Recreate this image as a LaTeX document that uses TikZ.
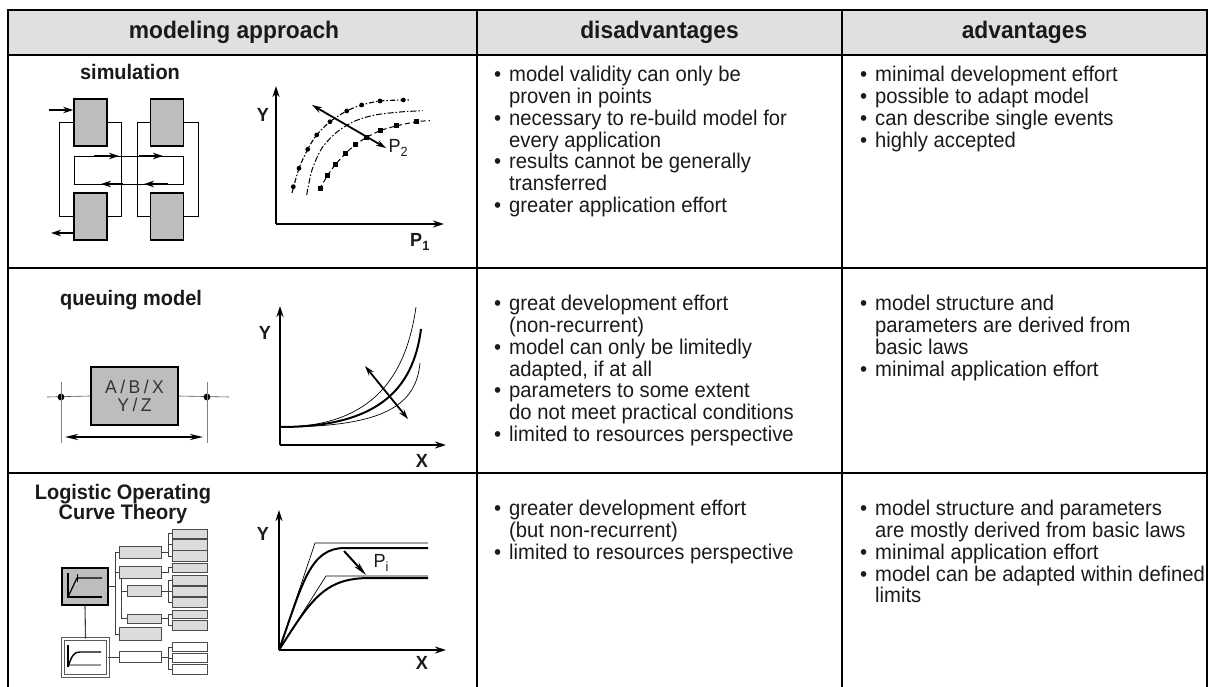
\documentclass[tikz,border=0pt]{standalone}
\usepackage{fontspec}
\setmainfont{Liberation Sans}[FakeStretch=0.95]
\usetikzlibrary{arrows.meta}
\definecolor{hdr}{HTML}{E0E0E0}
\definecolor{boxg}{HTML}{BDBDBD}
\definecolor{lboxg}{HTML}{DCDCDC}
\definecolor{ink}{HTML}{1A1A1A}
\newcommand\bu{\makebox[15pt][l]{\textbullet}}
\newcommand\ind{\hspace*{15pt}}
\begin{document}
\begin{tikzpicture}[x=1pt,y=-1pt,
  tbl/.style={line width=2.6pt, line join=miter},
  hd/.style={font=\fontsize{24}{26}\selectfont\bfseries, text=ink},
  ttl/.style={font=\fontsize{21}{18.5}\selectfont\bfseries, align=center, text=ink},
  txt/.style={font=\fontsize{21.3}{21.8}\selectfont, align=left, anchor=north west, inner sep=0pt, text=ink},
  gbox/.style={draw, line width=1.8pt, fill=boxg, inner sep=0pt},
  thinl/.style={line width=0.6pt},
  arr/.style={line width=1.8pt, -{Stealth[length=10pt,width=6.5pt]}},
  darr/.style={line width=1.8pt, {Stealth[length=10pt,width=6pt]}-{Stealth[length=10pt,width=6pt]}},
  axis/.style={line width=2pt, -{Stealth[length=11pt,width=7pt]}},
  ax/.style={font=\fontsize{19}{19}\selectfont\bfseries, text=ink},
  sb/.style={draw=black!70, fill=lboxg, line width=0.9pt, inner sep=0pt},
]
\fill[white] (0,0) rectangle (1214,687);
\useasboundingbox (0,0) rectangle (1214,687);
% table
\fill[hdr] (8,10) rectangle (1207,55);
\draw[tbl] (8,690) -- (8,10) -- (1207,10) -- (1207,690);
\draw[tbl] (8,55) -- (1207,55) (8,268) -- (1207,268) (8,473) -- (1207,473)
           (477,10) -- (477,690) (842,10) -- (842,690);
\node[hd] (h1) at (234,32.5) {modeling approach};
\node[hd] (h2) at (659.5,32.5) {disadvantages};
\node[hd] (h3) at (1024.5,32.5) {advantages};
% titles
\node[ttl] (t1) at (130,72) {simulation};
\node[ttl] (t2) at (131,300) {queuing model};
\node[ttl] (t3) at (123,504) {Logistic Operating\\Curve Theory};
% texts
\node[txt] (d1) at (494,66) {\bu model validity can only be\\\ind proven in points\\\bu necessary to re-build model for\\\ind every application\\\bu results cannot be generally\\\ind transferred\\\bu greater application effort};
\node[txt] (a1) at (860,66) {\bu minimal development effort\\\bu possible to adapt model\\\bu can describe single events\\\bu highly accepted};
\node[txt] (d2) at (494,295) {\bu great development effort\\\ind (non-recurrent)\\\bu model can only be limitedly\\\ind adapted, if at all\\\bu parameters to some extent\\\ind do not meet practical conditions\\\bu limited to resources perspective};
\node[txt] (a2) at (860,295) {\bu model structure and\\\ind parameters are derived from\\\ind basic laws\\\bu minimal application effort};
\node[txt] (d3) at (494,500) {\bu greater development effort\\\ind (but non-recurrent)\\\bu limited to resources perspective};
\node[txt] (a3) at (860,500) {\bu model structure and parameters\\\ind are mostly derived from basic laws\\\bu minimal application effort\\\bu model can be adapted within defined\\\ind limits};
% ---------- simulation block diagram
\node[gbox, minimum width=33pt, minimum height=47pt] (s1) at (90.5,122.5) {};
\node[gbox, minimum width=33pt, minimum height=47pt] (s2) at (167,122.5) {};
\node[gbox, minimum width=33pt, minimum height=47pt] (s3) at (90.5,216.5) {};
\node[gbox, minimum width=33pt, minimum height=47pt] (s4) at (167,216.5) {};
\draw[thinl] (s1.west) -- ++(-14,0) |- (s3.west);
\draw[thinl] (s1.east) -- ++(13,0) |- (s3.east);
\draw[thinl] (s2.west) -- ++(-12,0) |- (s4.west);
\draw[thinl] (s2.east) -- ++(14,0) |- (s4.east);
\coordinate (m1) at (74,156); \coordinate (m2) at (183,184);
\draw[thinl] (m1) rectangle (m2);
\draw[arr] (94,156) -- (119,156);
\draw[arr] (139,156) -- (163,156);
\draw[arr] (123,184) -- (101,184);
\draw[arr] (168,184) -- (144,184);
\coordinate (sin) at (49,110);
\coordinate (sout) at (51,233);
\draw[arr] (sin) -- (sin -| s1.west);
\draw[arr] (sout -| s3.west) -- (sout);
% ---------- simulation graph
\coordinate (o1) at (276,224);
\coordinate (y1) at (276,86);
\coordinate (x1) at (444,224);
\draw[axis] (o1) -- (y1);
\draw[axis] (o1) -- (x1);
\node[ax] (ly1) at (263,115) {Y};
\node[ax] (lx1) at (420,242) {P\textsubscript{1}};
\draw[line width=1.1pt, dash pattern=on 5pt off 2pt on 1.5pt off 2pt] plot[smooth] coordinates {(292,193) (299,168.3) (307.7,149.3) (316.7,135) (330,121.7) (346.7,111) (361.7,105) (380,101) (403,100) (410,100)};
\foreach \p in {(293.3,186.7),(299,168.3),(307.7,149.3),(316.7,135),(330,121.7),(346.7,111),(361.7,105),(380,101),(403.3,100)} \fill \p circle (2.4pt);
\draw[line width=1pt, dash pattern=on 6pt off 2pt on 1.5pt off 2pt] plot[smooth] coordinates {(306.7,195) (312,170) (322,148) (337,132) (355,121) (375,115) (400,112) (422.7,110.7)};
\draw[line width=1pt, dash pattern=on 5pt off 3pt] plot[smooth] coordinates {(319.3,189.3) (327.3,176) (335,165) (345,154) (355,145) (366.7,137.3) (380,130.7) (396,126) (416.7,121.7) (430,120.7)};
\foreach \p in {(320,188.7),(327.3,176),(335,165),(345,154),(355,145),(366.7,137.3),(380,130.7),(396,126),(416.7,121.7)} \fill \p +(-2.5,-2.5) rectangle +(2.5,2.5);
\coordinate (pa) at (312,105); \coordinate (pb) at (386,148);
\draw[darr] (pa) -- (pb);
\node[font=\fontsize{19}{19}\selectfont, text=ink, anchor=west] (lp2) at (385,148) {P\textsubscript{2}};
% ---------- queuing diagram
\node[gbox, minimum width=87pt, minimum height=58pt, align=center, font=\fontsize{18.5}{18}\selectfont, text=black!80] (q) at (134.5,396) {A\hspace{3.5pt}/\hspace{3.5pt}B\hspace{3.5pt}/\hspace{3.5pt}X\\Y\hspace{3.5pt}/\hspace{3.5pt}Z};
\coordinate (ql) at (47,397); \coordinate (qr) at (229,397);
\draw[thinl, black!70] (ql) -- (q.west);
\draw[thinl, black!70] (q.east) -- (qr);
\coordinate (qd1) at (61,397); \coordinate (qd2) at (207,397);
\fill (qd1) circle (3.4pt); \fill (qd2) circle (3.4pt);
\draw[thinl, black!50] (61,382) -- (61,443);
\draw[thinl, black!50] (207,382) -- (207,443);
\coordinate (qa) at (65,437); \coordinate (qb) at (203,437);
\draw[line width=2.2pt, {Stealth[length=13pt,width=6pt]}-{Stealth[length=13pt,width=6pt]}] (qa) -- (qb);
% ---------- queuing graph
\coordinate (o2) at (280,445);
\coordinate (y2) at (280,306);
\coordinate (x2) at (446,445);
\draw[axis] (o2) -- (y2);
\draw[axis] (o2) -- (x2);
\node[ax] (ly2) at (265,333) {Y};
\node[ax] (lx2) at (422,461) {X};
\coordinate (c0) at (280,427);
\draw[line width=0.7pt] (c0) .. controls (365,427) and (405,385) .. (416,307);
\draw[line width=2pt] (c0) .. controls (375,427) and (413,392) .. (421,329);
\draw[line width=0.7pt] (c0) .. controls (385,427) and (416,405) .. (420,363);
\coordinate (qa2) at (365,366); \coordinate (qb2) at (408,419);
\draw[darr] (qa2) -- (qb2);
% ---------- logistic diagram
\node[draw, line width=1.3pt, fill=boxg, minimum width=46pt, minimum height=37pt, inner sep=0pt] (big) at (85,586.5) {};
\draw[line width=1.2pt] (68,573) -- (68,597) -- (102,597);
\draw[line width=1.2pt] (68,597) -- (77,578) -- (102,578);
\draw[line width=1pt] (77,574) -- (77,582);
\node[draw=black!65, line width=0.9pt, double=white, double distance=1.4pt, fill=white, minimum width=45pt, minimum height=37pt, inner sep=0pt] (low) at (85.5,657.5) {};
\draw[line width=1.3pt, black!40] (68,665) -- (101,665);
\draw[line width=1.2pt] (68,645) -- (68,667);
\draw[line width=1.4pt] (68,667) .. controls (72,655) and (74,652) .. (80,652) -- (101,652);
\draw[line width=1.1pt, black!75] (big.south) -- (low.north);
% middle boxes
\node[sb, minimum width=42pt, minimum height=11.6pt] (A) at (140,552.5) {};
\node[sb, minimum width=42pt, minimum height=11.6pt] (B) at (140,572.5) {};
\node[sb, minimum width=34pt, minimum height=11.7pt] (C) at (144,591) {};
\node[sb, minimum width=34pt, minimum height=9.3pt] (D) at (144,618.7) {};
\node[sb, minimum width=42pt, minimum height=12.3pt] (E) at (140,634) {};
\node[sb, fill=white, minimum width=42pt, minimum height=11.7pt] (F) at (140,657) {};
% right column boxes
\foreach \n/\y/\h in {r1/533.7/9.3, r2/544.7/10.7, r3/556.2/11, r4/567.8/9, r5/580/10, r6/591.3/10.7, r7/602.3/10, r8/614.2/8.3, r9/625/10}
  \node[sb, minimum width=35pt, minimum height=\h pt] (\n) at (189.5,\y) {};
\foreach \n/\y/\h in {r10/647/9.4, r11/658/9.4, r12/669.2/9.7}
  \node[sb, fill=white, minimum width=35pt, minimum height=\h pt] (\n) at (189.5,\y) {};
\coordinate (bus) at (115,0);
\coordinate (sub) at (121,0);
\coordinate (bx) at (168,0);
\begin{scope}[line width=0.9pt, black!75]
\draw (big.east) -- (big.east -| bus);
\draw (bus |- A.west) -- (bus |- E.west);
\draw (bus |- A.west) -- (A.west);
\draw (bus |- B.west) -- (B.west);
\draw (bus |- E.west) -- (E.west);
\draw (sub |- B.south) -- (sub |- D.west) -- (D.west);
\draw (sub |- C.west) -- (C.west);
\draw (low.east |- F.west) -- (F.west);
% brackets
\draw (A.east) -- (A.east -| bx);
\draw (r1.west) -| (bx |- r3.west) -- (r3.west);
\draw (r2.west) -- (r2.west -| bx);
\draw (B.east) -- (B.east -| bx) |- (r4.west);
\draw (C.east) -- (C.east -| bx);
\draw (r5.west) -| (bx |- r7.west) -- (r7.west);
\draw (r6.west) -- (r6.west -| bx);
\draw (D.east) -- (D.east -| bx);
\draw (r8.west) -| (bx |- r9.west) -- (r9.west);
\draw (F.east) -- (F.east -| bx);
\draw (r10.west) -| (bx |- r12.west) -- (r12.west);
\draw (r11.west) -- (r11.west -| bx);
\end{scope}
% ---------- logistic graph
\coordinate (o3) at (279,650);
\coordinate (y3) at (279,510);
\coordinate (x3) at (446,650);
\draw[axis] (o3) -- (y3);
\draw[axis] (o3) -- (x3);
\node[ax] (ly3) at (263,534) {Y};
\node[ax] (lx3) at (422,663) {X};
\draw[line width=0.7pt] (o3) -- (315,543) -- (428,543);
\draw[line width=0.7pt] (o3) -- (326,576) -- (428,576);
\draw[line width=2pt] (o3) .. controls (303,582) and (310,548) .. (345,548) -- (428,548);
\draw[line width=2pt] (o3) .. controls (312,598) and (325,578) .. (370,578) -- (428,578);
\coordinate (pia) at (344,551); \coordinate (pib) at (366,575);
\draw[line width=2pt, -{Stealth[length=14pt,width=6pt]}] (pia) -- (pib);
\node[font=\fontsize{19}{19}\selectfont, text=ink, anchor=west] (lpi) at (370,563) {P\textsubscript{i}};
\end{tikzpicture}
\end{document}
